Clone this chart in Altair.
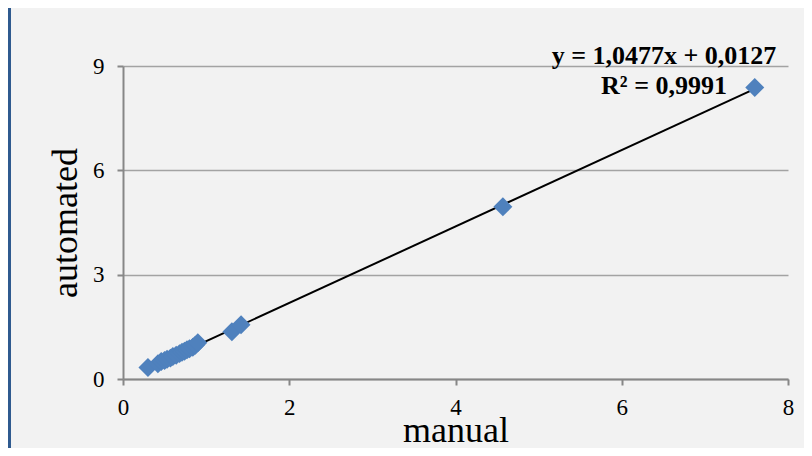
import altair as alt
import pandas as pd

# data
manual = [0.30, 0.42, 0.46, 0.50, 0.53, 0.57, 0.60, 0.64, 0.68, 0.71, 0.74,
          0.77, 0.80, 0.84, 0.87, 0.90, 1.31, 1.42, 4.57, 7.60]
automated = [0.33, 0.44, 0.50, 0.53, 0.57, 0.60, 0.65, 0.68, 0.73, 0.77, 0.80,
             0.84, 0.87, 0.91, 0.97, 1.04, 1.36, 1.56, 4.95, 8.38]
equation_lines = ["y = 1,0477x + 0,0127", "R² = 0,9991"]
x_ticks = [0, 2, 4, 6, 8]
y_ticks = [0, 3, 6, 9]

df = pd.DataFrame({"manual": manual, "automated": automated})

FONT = "Liberation Serif"
BLUE = "#4f81bd"

x_enc = alt.X("manual:Q", scale=alt.Scale(domain=[0, 8], nice=False),
              axis=alt.Axis(values=x_ticks, format="d", title="manual", grid=False,
                            labelFlush=False,
                            domainColor="#878787", domainWidth=2,
                            tickColor="#878787", tickWidth=2, tickSize=6,
                            labelFont=FONT, labelFontSize=23, labelColor="black",
                            labelPadding=11, titleFont=FONT, titleFontSize=36,
                            titleFontWeight="normal", titleColor="black",
                            titlePadding=-6))
y_enc = alt.Y("automated:Q", scale=alt.Scale(domain=[0, 9], nice=False),
              axis=alt.Axis(values=y_ticks, format="d", title="automated", grid=True,
                            labelFlush=False,
                            gridColor="#a3a3a3", gridWidth=1.5,
                            domainColor="#878787", domainWidth=2,
                            tickColor="#878787", tickWidth=2, tickSize=6,
                            labelFont=FONT, labelFontSize=23, labelColor="black",
                            labelPadding=13, titleFont=FONT, titleFontSize=36,
                            titleFontWeight="normal", titleColor="black",
                            titlePadding=8))

base = alt.Chart(df)

points = base.mark_point(shape="diamond", filled=True, size=360,
                         color=BLUE, opacity=1).encode(x=x_enc, y=y_enc)

trend = base.transform_regression("manual", "automated").mark_line(
    color="black", strokeWidth=2).encode(x=x_enc, y=y_enc)

eq = alt.Chart(pd.DataFrame({"t": [0]})).mark_text(
    font=FONT, fontSize=26, fontWeight="bold", color="black",
    align="center", baseline="alphabetic", lineHeight=30).encode(
    x=alt.value(541), y=alt.value(-2), text=alt.value(equation_lines))

strip = alt.Chart(pd.DataFrame({"t": [0]})).mark_rect(color="#2f5a8f").encode(
    x=alt.value(-115), x2=alt.value(-112), y=alt.value(-58), y2=alt.value(390))

chart = alt.layer(strip, trend, points, eq).properties(
    width=665, height=313,
    autosize=alt.AutoSizeParams(type="none"),
    padding={"left": 115, "top": 58, "right": 16, "bottom": 69},
    background="#f2f2f2",
).configure_view(stroke=None).configure_axis(labelFont=FONT, titleFont=FONT)

chart.save("out.html", embed_options={"renderer": "svg", "actions": False})
